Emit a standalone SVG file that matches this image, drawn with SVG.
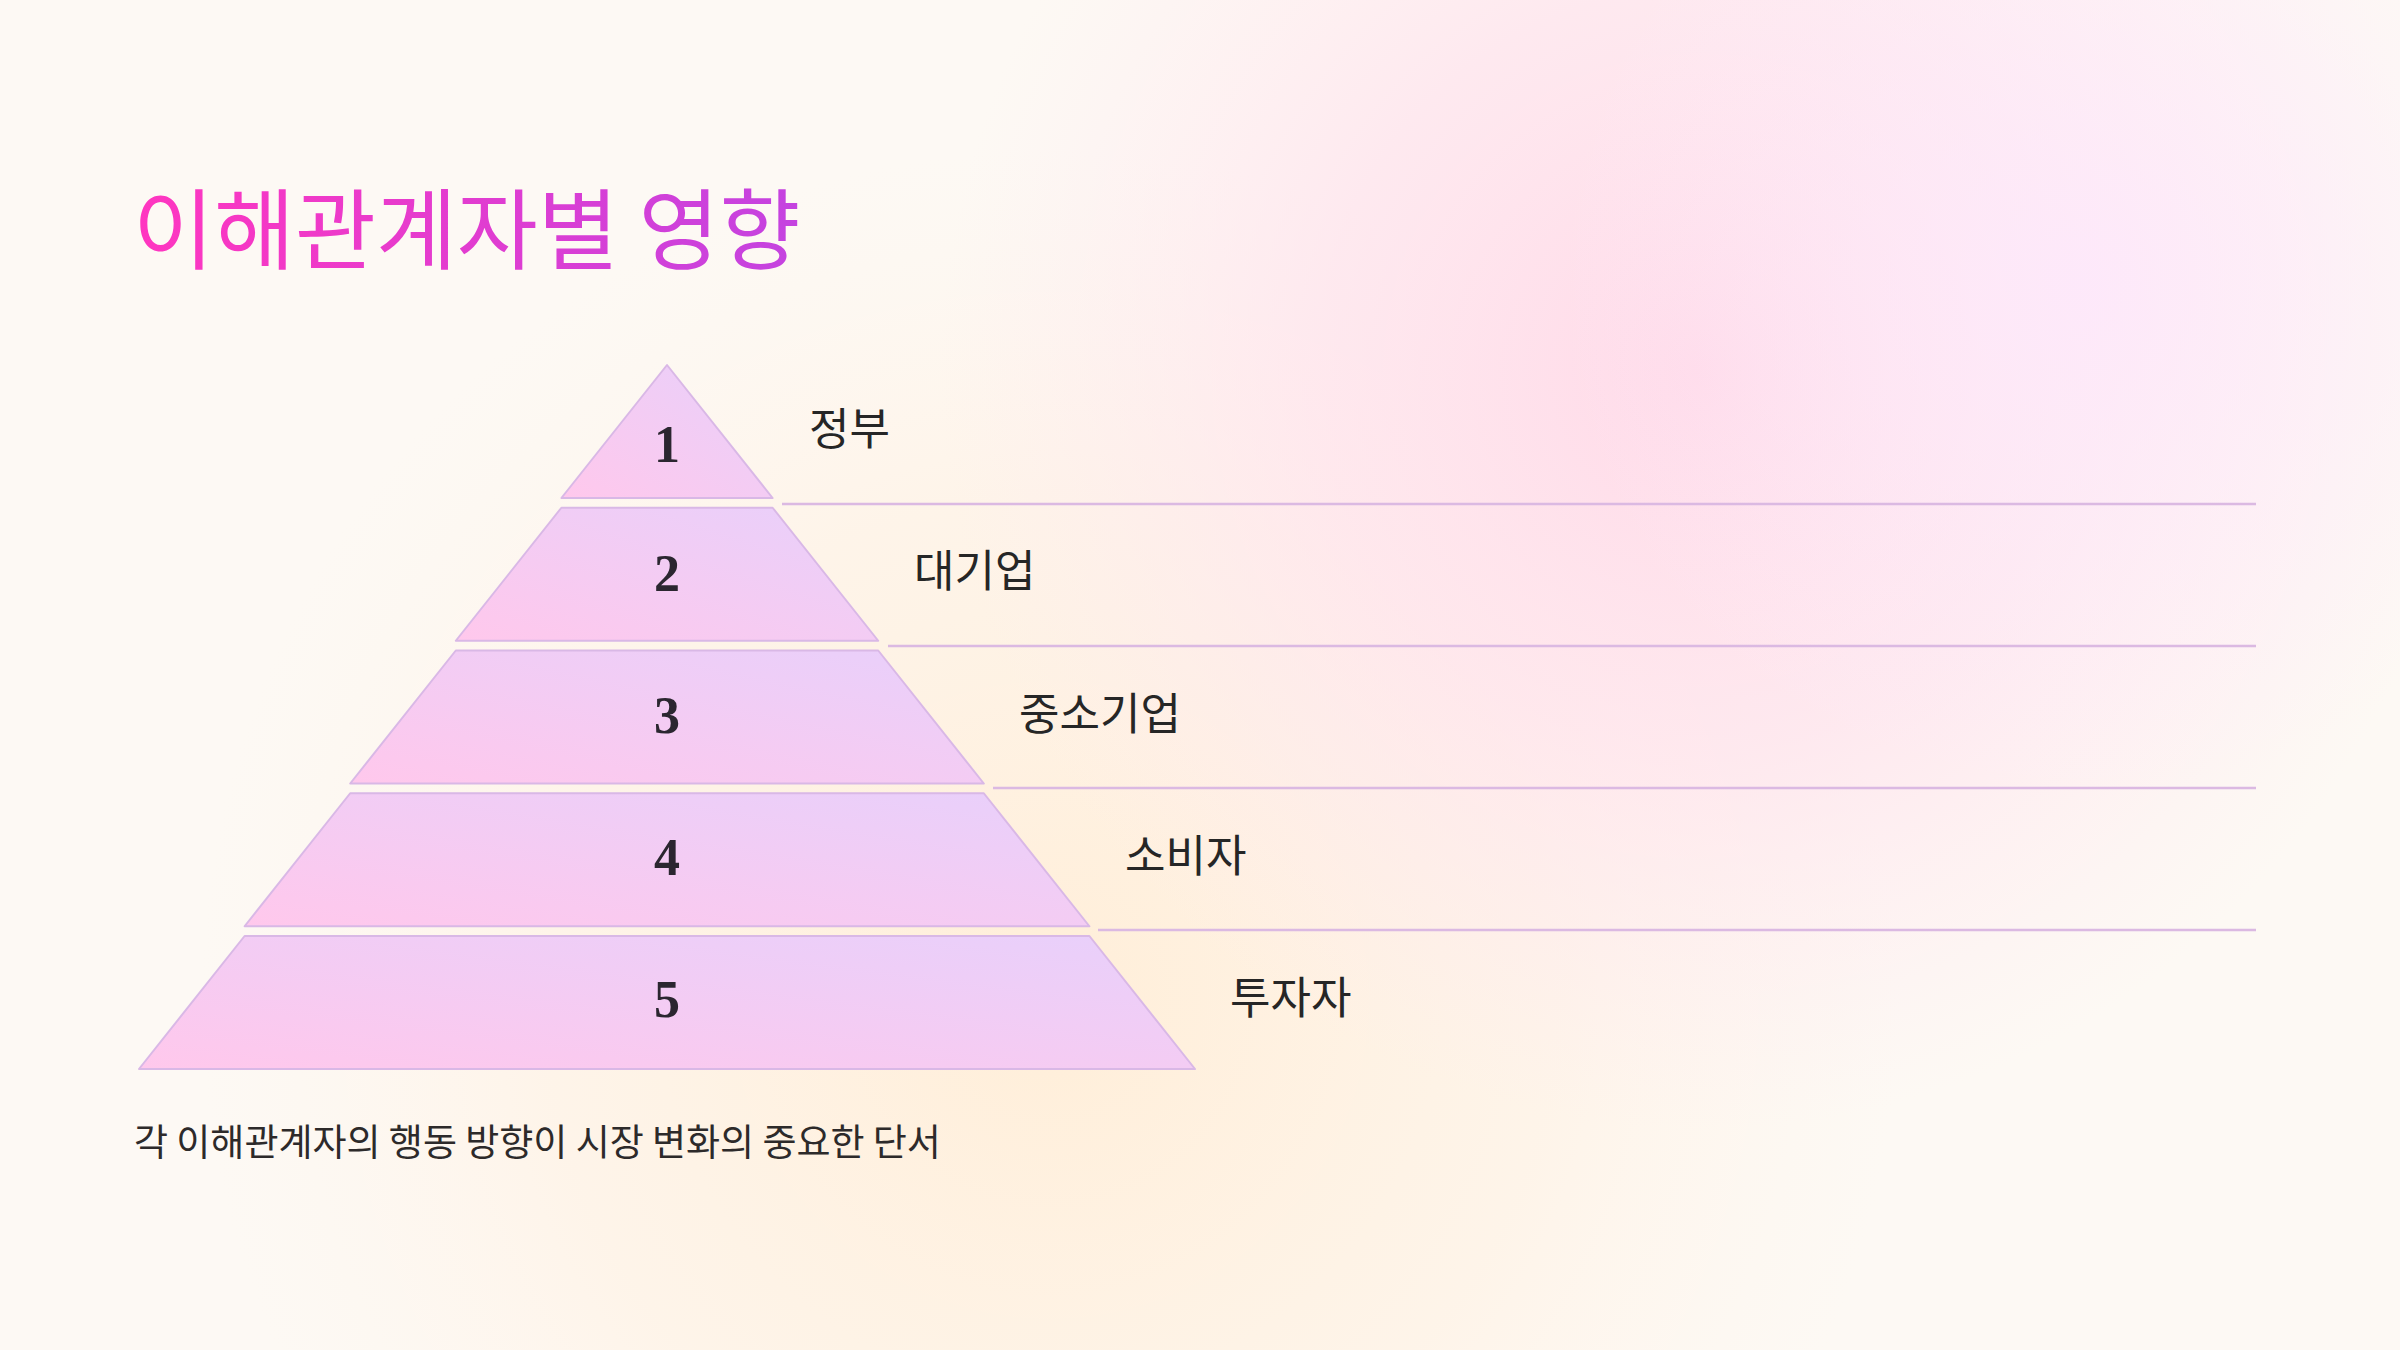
<svg xmlns="http://www.w3.org/2000/svg" width="2400" height="1350" viewBox="0 0 2400 1350">
<defs>
<radialGradient id="bgPink" cx="1700" cy="370" r="760" gradientUnits="userSpaceOnUse">
<stop offset="0" stop-color="#ffd9e8" stop-opacity="1"/>
<stop offset="0.5" stop-color="#ffe2ed" stop-opacity="0.7"/>
<stop offset="1" stop-color="#ffe8f0" stop-opacity="0"/>
</radialGradient>
<radialGradient id="bgLav" cx="2080" cy="280" r="520" gradientUnits="userSpaceOnUse">
<stop offset="0" stop-color="#fde8fb" stop-opacity="0.9"/>
<stop offset="1" stop-color="#fdeefc" stop-opacity="0"/>
</radialGradient>
<radialGradient id="bgPeach" cx="1050" cy="1000" r="850" gradientUnits="userSpaceOnUse">
<stop offset="0" stop-color="#ffeed8" stop-opacity="1"/>
<stop offset="0.6" stop-color="#fff1e2" stop-opacity="0.6"/>
<stop offset="1" stop-color="#fff4ea" stop-opacity="0"/>
</radialGradient>
<linearGradient id="layerFill" x1="0" y1="1" x2="1" y2="0">
<stop offset="0" stop-color="#ffc8ec"/>
<stop offset="1" stop-color="#e8d0fb"/>
</linearGradient>
<linearGradient id="titleFill" x1="138" y1="0" x2="800" y2="0" gradientUnits="userSpaceOnUse">
<stop offset="0" stop-color="#ff36c0"/>
<stop offset="1" stop-color="#c443e0"/>
</linearGradient>
<style>
.layer{fill:url(#layerFill);stroke:#d9b8e6;stroke-width:2;stroke-linejoin:round}
.num{font-family:"Liberation Serif","DejaVu Serif",serif;font-weight:bold;font-size:52px;fill:#2b2630;text-anchor:middle}
.label{font-family:"Noto Sans CJK KR","Noto Sans",sans-serif;font-size:44px;fill:#262626}
.sep{stroke:#dbb9e2;stroke-width:2.5;fill:none}
.title{font-family:"Noto Sans CJK KR","Noto Sans",sans-serif;font-size:88px;fill:url(#titleFill)}
.foot{font-family:"Noto Sans CJK KR","Noto Sans",sans-serif;font-size:37px;fill:#2d2a2a}
</style>
</defs>
<rect x="0" y="0" width="2400" height="1350" fill="#fdf9f4"/>
<rect x="0" y="0" width="2400" height="1350" fill="url(#bgPeach)"/>
<rect x="0" y="0" width="2400" height="1350" fill="url(#bgPink)"/>
<rect x="0" y="0" width="2400" height="1350" fill="url(#bgLav)"/>

<text id="title" class="title" x="133" y="262">이해관계자별 영향</text>

<g id="layer1">
<polygon class="layer" points="667,365 772.6,498 561.4,498"/>
<text class="num" x="667" y="462">1</text>
<text class="label" x="809" y="445">정부</text>
</g>
<g id="layer2">
<polygon class="layer" points="561.4,507.75 772.6,507.75 878.2,640.75 455.8,640.75"/>
<text class="num" x="667" y="591">2</text>
<text class="label" x="914" y="587">대기업</text>
</g>
<g id="layer3">
<polygon class="layer" points="455.8,650.5 878.2,650.5 983.8,783.5 350.2,783.5"/>
<text class="num" x="667" y="733">3</text>
<text class="label" x="1019" y="730">중소기업</text>
</g>
<g id="layer4">
<polygon class="layer" points="350.2,793.25 983.8,793.25 1089.4,926.25 244.6,926.25"/>
<text class="num" x="667" y="875">4</text>
<text class="label" x="1125" y="872">소비자</text>
</g>
<g id="layer5">
<polygon class="layer" points="244.6,936 1089.4,936 1195,1069 139,1069"/>
<text class="num" x="667" y="1017">5</text>
<text class="label" x="1230" y="1014">투자자</text>
</g>

<g id="connectors">
<line class="sep" x1="782" y1="504" x2="2256" y2="504"/>
<line class="sep" x1="888" y1="646" x2="2256" y2="646"/>
<line class="sep" x1="993" y1="788" x2="2256" y2="788"/>
<line class="sep" x1="1098" y1="930" x2="2256" y2="930"/>
</g>

<text id="footer" class="foot" x="134" y="1156">각 이해관계자의 행동 방향이 시장 변화의 중요한 단서</text>
</svg>
